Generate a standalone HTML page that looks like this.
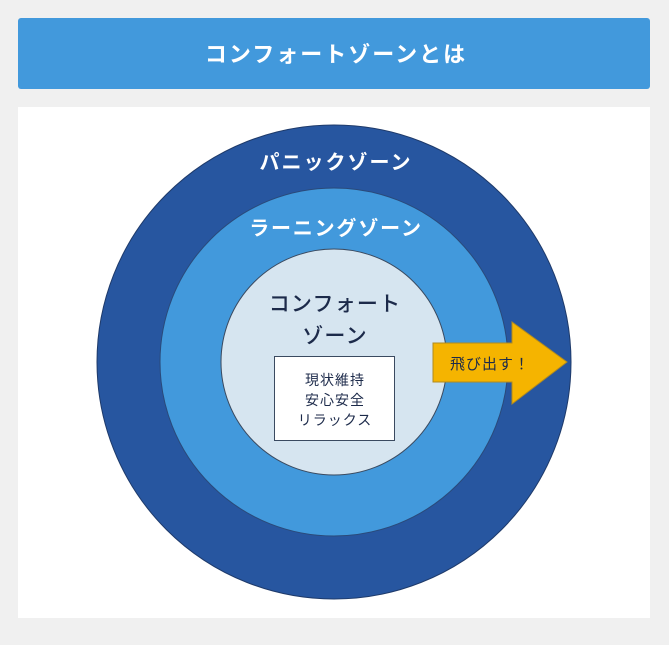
<!DOCTYPE html>
<html><head><meta charset="utf-8"><style>
html,body{margin:0;padding:0;background:#f0f0f0;}
body{width:669px;height:640px;overflow:hidden;}
</style></head><body>
<svg width="669" height="640" xmlns="http://www.w3.org/2000/svg" style="font-family:'Liberation Sans','Noto Sans CJK JP',sans-serif">
<rect x="0" y="0" width="669" height="640" fill="#f0f0f0"/>
<rect x="18" y="18" width="632" height="71" rx="3" fill="#4299dc"/>
<text x="336" y="62" text-anchor="middle" font-size="22" font-weight="bold" fill="#fff" letter-spacing="2">コンフォートゾーンとは</text>
<rect x="18" y="107" width="632" height="511" fill="#fff"/>
<circle cx="334" cy="362" r="237" fill="#2756a0" stroke="#1e3a6a" stroke-width="1"/>
<circle cx="334" cy="362" r="174" fill="#4299dc" stroke="#2a4a7a" stroke-width="1"/>
<circle cx="334" cy="362" r="113" fill="#d6e5f0" stroke="#3a4a60" stroke-width="1"/>
<text x="336" y="169" text-anchor="middle" font-size="20" font-weight="bold" fill="#fff" letter-spacing="2">パニックゾーン</text>
<text x="336" y="235" text-anchor="middle" font-size="20" font-weight="bold" fill="#fff" letter-spacing="1.8">ラーニングゾーン</text>
<text x="335" y="311" text-anchor="middle" font-size="21" font-weight="500" fill="#1c2a4a" letter-spacing="1.2">コンフォート</text>
<text x="335" y="343" text-anchor="middle" font-size="21" font-weight="500" fill="#1c2a4a" letter-spacing="1.2">ゾーン</text>
<rect x="274.5" y="356.5" width="120" height="84" fill="#fff" stroke="#3a4a60" stroke-width="1"/>
<text x="335" y="385" text-anchor="middle" font-size="14" fill="#1c2a4a" letter-spacing="1">現状維持</text>
<text x="335" y="405" text-anchor="middle" font-size="14" fill="#1c2a4a" letter-spacing="1">安心安全</text>
<text x="335" y="425" text-anchor="middle" font-size="14" fill="#1c2a4a" letter-spacing="1">リラックス</text>
<polygon points="433,343 512,343 512,322 567,362 512,404 512,382 433,382" fill="#f5b400" stroke="#b08a20" stroke-width="1"/>
<text x="490" y="369" text-anchor="middle" font-size="15" fill="#1c2a4a" letter-spacing="1">飛び出す！</text>
</svg>
</body></html>
